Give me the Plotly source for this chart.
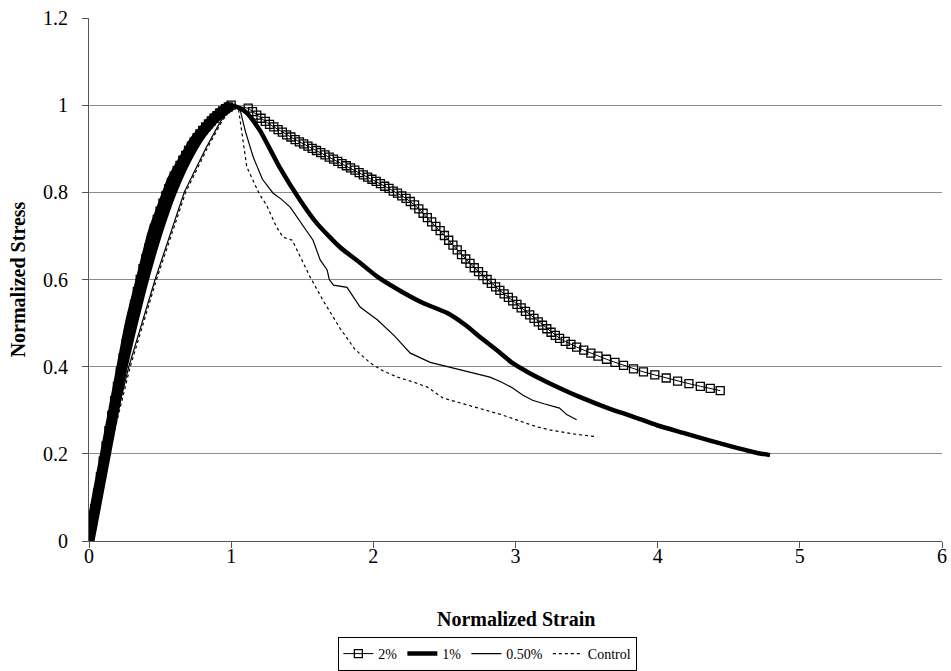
import plotly.graph_objects as go

# ---- data ----
x_2pct = [0.00, 0.02, 0.04, 0.06, 0.08, 0.10, 0.12, 0.14, 0.16, 0.18, 0.20, 0.22, 0.24, 0.26, 0.28,
          0.30, 0.32, 0.34, 0.36, 0.38, 0.40, 0.42, 0.44, 0.46, 0.48, 0.50, 0.52, 0.54, 0.56, 0.58,
          0.60, 0.62, 0.64, 0.66, 0.68, 0.70, 0.72, 0.74, 0.76, 0.78, 0.80, 0.82, 0.84, 0.86, 0.88,
          0.90, 0.92, 0.94, 0.96, 0.98, 1.00,
          1.12, 1.15, 1.18, 1.21, 1.24, 1.27, 1.30, 1.33, 1.36, 1.39, 1.42, 1.45, 1.48, 1.51, 1.54,
          1.57, 1.60, 1.63, 1.66, 1.69, 1.72, 1.75, 1.78, 1.81, 1.84, 1.87, 1.90, 1.93, 1.96, 1.99,
          2.02, 2.05, 2.08, 2.11, 2.14, 2.17, 2.20, 2.23, 2.26, 2.29, 2.32, 2.35, 2.38, 2.41, 2.44,
          2.47, 2.50, 2.53, 2.56, 2.59, 2.62, 2.65, 2.68, 2.71, 2.74, 2.77, 2.80, 2.83, 2.86, 2.89,
          2.92, 2.95, 2.98, 3.01, 3.04, 3.07, 3.10, 3.13, 3.16, 3.19, 3.22, 3.25, 3.28, 3.31, 3.35,
          3.39, 3.43, 3.48, 3.53, 3.58, 3.64, 3.70, 3.76, 3.83, 3.90, 3.98, 4.06, 4.14, 4.22, 4.30,
          4.37, 4.44]
y_2pct = [0.000, 0.037, 0.074, 0.110, 0.147, 0.183, 0.218, 0.253, 0.288, 0.322, 0.355, 0.388, 0.420, 0.452, 0.483,
          0.513, 0.543, 0.572, 0.600, 0.625, 0.648, 0.672, 0.695, 0.717, 0.738, 0.757, 0.775, 0.792, 0.808, 0.823,
          0.837, 0.850, 0.862, 0.874, 0.885, 0.896, 0.906, 0.916, 0.925, 0.934, 0.942, 0.950, 0.957, 0.964, 0.970,
          0.976, 0.982, 0.987, 0.992, 0.996, 1.000,
          0.993, 0.985, 0.977, 0.970, 0.963, 0.956, 0.950, 0.944, 0.938, 0.932, 0.927, 0.921, 0.916, 0.911, 0.906,
          0.901, 0.896, 0.891, 0.886, 0.881, 0.876, 0.871, 0.866, 0.861, 0.856, 0.851, 0.845, 0.840, 0.835, 0.830,
          0.825, 0.820, 0.814, 0.809, 0.803, 0.798, 0.792, 0.786, 0.779, 0.771, 0.762, 0.752, 0.742, 0.732, 0.722,
          0.712, 0.701, 0.690, 0.679, 0.668, 0.657, 0.647, 0.637, 0.627, 0.618, 0.609, 0.600, 0.591, 0.583, 0.575,
          0.567, 0.559, 0.551, 0.543, 0.535, 0.527, 0.519, 0.511, 0.503, 0.495, 0.487, 0.479, 0.472, 0.465, 0.458,
          0.451, 0.445, 0.438, 0.431, 0.424, 0.417, 0.410, 0.403, 0.395, 0.388, 0.381, 0.374, 0.367, 0.361, 0.355,
          0.350, 0.345]
n_rise_2pct = 51  # points up to the peak

x_1pct = [0.00, 0.05, 0.10, 0.15, 0.20, 0.25, 0.30, 0.35, 0.40, 0.45, 0.50, 0.55, 0.60, 0.65, 0.70,
          0.75, 0.80, 0.85, 0.90, 0.95, 1.00, 1.10, 1.20, 1.34, 1.485, 1.60, 1.766, 1.90, 2.03, 2.20,
          2.35, 2.52, 2.65, 2.75, 2.88, 2.98, 3.10, 3.22, 3.455, 3.65, 3.83, 4.00, 4.18, 4.35, 4.53,
          4.70, 4.79]
y_1pct = [0.000, 0.082, 0.163, 0.242, 0.318, 0.391, 0.461, 0.528, 0.592, 0.651, 0.705, 0.754, 0.798, 0.837, 0.871,
          0.901, 0.927, 0.950, 0.970, 0.987, 1.000, 0.985, 0.943, 0.858, 0.782, 0.730, 0.674, 0.640, 0.606, 0.572,
          0.546, 0.523, 0.495, 0.468, 0.435, 0.408, 0.385, 0.365, 0.330, 0.305, 0.285, 0.265, 0.248, 0.232, 0.216,
          0.202, 0.197]

x_05pct = [0.00, 0.13, 0.28, 0.465, 0.67, 0.82, 0.92, 1.00, 1.06, 1.10, 1.155, 1.22, 1.295, 1.35, 1.415,
           1.50, 1.576, 1.626, 1.675, 1.69, 1.72, 1.815, 1.86, 1.907, 1.956, 2.03, 2.15, 2.26, 2.40, 2.52,
           2.63, 2.82, 2.90, 2.98, 3.05, 3.12, 3.20, 3.31, 3.36, 3.43]
y_05pct = [0.000, 0.200, 0.400, 0.600, 0.800, 0.900, 0.960, 1.000, 0.993, 0.940, 0.881, 0.830, 0.798, 0.785, 0.766,
           0.725, 0.690, 0.645, 0.622, 0.600, 0.587, 0.582, 0.560, 0.537, 0.525, 0.507, 0.470, 0.431, 0.410, 0.400,
           0.392, 0.376, 0.365, 0.351, 0.335, 0.323, 0.315, 0.305, 0.290, 0.278]

x_ctrl = [0.00, 0.14, 0.29, 0.475, 0.68, 0.83, 0.93, 1.00, 1.05, 1.08, 1.11, 1.20, 1.25, 1.32, 1.365,
          1.43, 1.49, 1.555, 1.65, 1.766, 1.87, 1.98, 2.07, 2.17, 2.28, 2.38, 2.49, 2.60, 2.75, 2.90,
          3.05, 3.15, 3.24, 3.40, 3.575]
y_ctrl = [0.000, 0.200, 0.400, 0.600, 0.800, 0.900, 0.960, 0.995, 0.995, 0.930, 0.858, 0.795, 0.770, 0.720, 0.697,
          0.690, 0.650, 0.606, 0.550, 0.488, 0.440, 0.408, 0.390, 0.376, 0.365, 0.353, 0.328, 0.318, 0.305, 0.290,
          0.273, 0.262, 0.255, 0.246, 0.239]

series_names = ["2%", "1%", "0.50%", "Control"]
x_ticks = [0, 1, 2, 3, 4, 5, 6]
y_ticks = [0, 0.2, 0.4, 0.6, 0.8, 1, 1.2]
y_tick_labels = ["0", "0.2", "0.4", "0.6", "0.8", "1", "1.2"]
x_title = "Normalized Strain"
y_title = "Normalized Stress"

FONT = "Liberation Serif, Times New Roman, serif"

fig = go.Figure()
# dense rising part of the 2% curve merges into a solid band
fig.add_trace(go.Scatter(
    x=x_2pct[:n_rise_2pct], y=y_2pct[:n_rise_2pct], mode="lines", showlegend=False, legendgroup="2",
    line=dict(color="black", width=11), hoverinfo="skip",
))
fig.add_trace(go.Scatter(
    x=x_2pct, y=y_2pct, name=series_names[0], mode="lines+markers", legendgroup="2",
    line=dict(color="black", width=1),
    marker=dict(symbol="square-open", size=8, color="black", line=dict(width=1.3, color="black")),
))
fig.add_trace(go.Scatter(
    x=x_1pct, y=y_1pct, name=series_names[1], mode="lines",
    line=dict(color="black", width=4.5, shape="spline", smoothing=0.6),
))
fig.add_trace(go.Scatter(
    x=x_05pct, y=y_05pct, name=series_names[2], mode="lines",
    line=dict(color="black", width=1.2),
))
fig.add_trace(go.Scatter(
    x=x_ctrl, y=y_ctrl, name=series_names[3], mode="lines",
    line=dict(color="black", width=1.2, dash="dot"),
))

fig.update_layout(
    width=951, height=671,
    margin=dict(l=89, r=9, t=18, b=130, autoexpand=False),
    paper_bgcolor="white", plot_bgcolor="white",
    font=dict(family=FONT, color="black", size=20),
    showlegend=True,
    legend=dict(
        orientation="h", xref="container", x=0.513, xanchor="center",
        yref="container", y=0.0, yanchor="bottom",
        bordercolor="black", borderwidth=1, bgcolor="white",
        font=dict(family=FONT, size=14, color="black"),
        tracegroupgap=0,
    ),
    xaxis=dict(
        range=[0, 6], tickvals=x_ticks, ticks="outside", ticklen=6, tickcolor="#555",
        showline=True, linecolor="#555", linewidth=1, showgrid=False, zeroline=False, automargin=False,
        tickfont=dict(family=FONT, size=20), ticklabelstandoff=-9,
    ),
    yaxis=dict(
        range=[0, 1.2], tickvals=y_ticks, ticktext=y_tick_labels, ticks="outside", ticklen=6, tickcolor="#555",
        showline=True, linecolor="#555", linewidth=1, showgrid=True, gridcolor="#8c8c8c", gridwidth=1,
        zeroline=False, automargin=False,
        tickfont=dict(family=FONT, size=20), ticklabelstandoff=10,
        title=dict(text="<b>" + y_title + "</b>", font=dict(family=FONT, size=20), standoff=12),
    ),
    annotations=[dict(
        text="<b>" + x_title + "</b>", xref="paper", yref="paper", x=0.5, y=-0.149,
        xanchor="center", yanchor="middle", showarrow=False, font=dict(family=FONT, size=20, color="black"),
    )],
)

fig.write_html("out.html")
